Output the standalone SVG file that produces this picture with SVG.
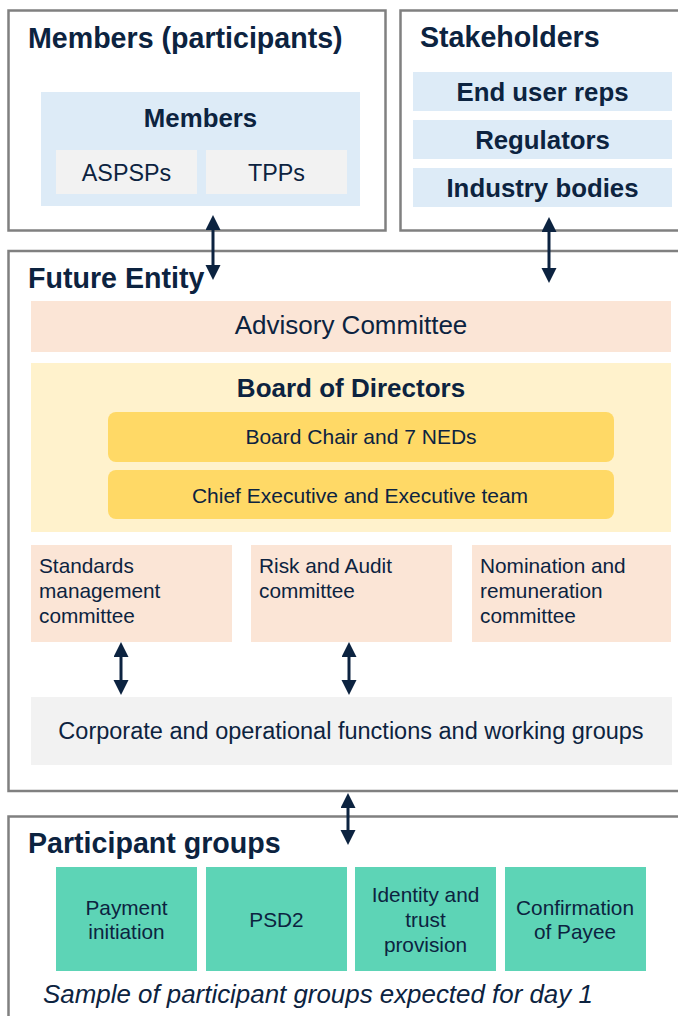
<svg xmlns="http://www.w3.org/2000/svg" width="678" height="1016" viewBox="0 0 678 1016">
  <defs>
    <style>
      text { font-family: "Liberation Sans", Arial, sans-serif; fill: #0c2340; }
      .frame { fill: #ffffff; stroke: #808080; stroke-width: 2.5; }
      .title { font-size: 28.6px; font-weight: bold; }
      .sub { font-size: 25.8px; font-weight: bold; text-anchor: middle; }
      .mid { text-anchor: middle; }
      .t23 { font-size: 23.3px; }
      .t21 { font-size: 20.8px; }
      .blue { fill: #ddebf7; }
      .grey { fill: #f2f2f2; }
      .peach { fill: #fbe5d6; }
      .cream { fill: #fff2cc; }
      .gold { fill: #ffd966; }
      .mint { fill: #5dd4b6; }
      .link { stroke: #0c2340; stroke-width: 3; fill: none; marker-start: url(#head); marker-end: url(#head); }
    </style>
    <marker id="head" markerUnits="userSpaceOnUse" markerWidth="16" markerHeight="16" refX="3" refY="7.5" orient="auto-start-reverse">
      <path d="M0,0 L15,7.5 L0,15 z" fill="#0c2340"/>
    </marker>
  </defs>

  <!-- Members panel -->
  <g id="members-panel">
    <rect class="frame" x="8.5" y="10.5" width="377" height="220"/>
    <text class="title" x="28" y="48">Members (participants)</text>
  </g>
  <g id="members">
    <rect class="blue" x="41" y="92" width="319" height="114"/>
    <text class="sub" x="200.5" y="127">Members</text>
  </g>
  <g id="aspsps">
    <rect class="grey" x="56" y="150" width="141" height="44"/>
    <text class="mid t23" x="126.5" y="181">ASPSPs</text>
  </g>
  <g id="tpps">
    <rect class="grey" x="206" y="150" width="141" height="44"/>
    <text class="mid t23" x="276.5" y="181">TPPs</text>
  </g>

  <!-- Stakeholders panel -->
  <g id="stakeholders-panel">
    <rect class="frame" x="400.5" y="10.5" width="300" height="220"/>
    <text class="title" x="420" y="47">Stakeholders</text>
  </g>
  <g id="end-user-reps">
    <rect class="blue" x="413" y="72" width="259" height="39"/>
    <text class="sub" x="542.5" y="100.5">End user reps</text>
  </g>
  <g id="regulators">
    <rect class="blue" x="413" y="120" width="259" height="39"/>
    <text class="sub" x="542.5" y="148.5">Regulators</text>
  </g>
  <g id="industry-bodies">
    <rect class="blue" x="413" y="168" width="259" height="39"/>
    <text class="sub" x="542.5" y="196.5">Industry bodies</text>
  </g>

  <!-- Future Entity panel -->
  <g id="future-entity">
    <rect class="frame" x="8.5" y="251" width="692" height="540"/>
    <text class="title" x="28" y="288">Future Entity</text>
  </g>
  <g id="advisory-committee">
    <rect class="peach" x="31" y="301" width="640" height="51"/>
    <text class="mid" x="351" y="334" style="font-size:26px">Advisory Committee</text>
  </g>
  <g id="board">
    <rect class="cream" x="31" y="363" width="640" height="169"/>
    <text class="mid" x="351" y="397" style="font-size:26px;font-weight:bold">Board of Directors</text>
  </g>
  <g id="board-chair">
    <rect class="gold" x="108" y="412" width="506" height="50" rx="8"/>
    <text class="mid t21" x="361" y="444" style="font-size:21px">Board Chair and 7 NEDs</text>
  </g>
  <g id="executive">
    <rect class="gold" x="108" y="470" width="506" height="49" rx="8"/>
    <text class="mid t21" x="360" y="503" style="font-size:21px">Chief Executive and Executive team</text>
  </g>
  <g id="standards-committee">
    <rect class="peach" x="31" y="545" width="201" height="97"/>
    <text class="t21" x="39" y="573">Standards</text>
    <text class="t21" x="39" y="598">management</text>
    <text class="t21" x="39" y="623">committee</text>
  </g>
  <g id="risk-audit-committee">
    <rect class="peach" x="251" y="545" width="201" height="97"/>
    <text class="t21" x="259" y="573">Risk and Audit</text>
    <text class="t21" x="259" y="598">committee</text>
  </g>
  <g id="nomination-committee">
    <rect class="peach" x="472" y="545" width="199" height="97"/>
    <text class="t21" x="480" y="573">Nomination and</text>
    <text class="t21" x="480" y="598">remuneration</text>
    <text class="t21" x="480" y="623">committee</text>
  </g>
  <g id="corporate-functions">
    <rect class="grey" x="31" y="697" width="641" height="68"/>
    <text class="mid" x="351" y="739" style="font-size:23.5px">Corporate and operational functions and working groups</text>
  </g>

  <!-- Participant groups panel -->
  <g id="participant-groups">
    <rect class="frame" x="8.5" y="816.5" width="692" height="220"/>
    <text class="title" x="28" y="853">Participant groups</text>
    <text x="43" y="1003" style="font-size:25.9px;font-style:italic">Sample of participant groups expected for day 1</text>
  </g>
  <g id="payment-initiation">
    <rect class="mint" x="56" y="867" width="141" height="104"/>
    <text class="mid t21" x="126.5" y="915">Payment</text>
    <text class="mid t21" x="126.5" y="939">initiation</text>
  </g>
  <g id="psd2">
    <rect class="mint" x="206" y="867" width="141" height="104"/>
    <text class="mid t21" x="276.5" y="927">PSD2</text>
  </g>
  <g id="identity-trust">
    <rect class="mint" x="355" y="867" width="141" height="104"/>
    <text class="mid t21" x="425.5" y="902">Identity and</text>
    <text class="mid t21" x="425.5" y="927">trust</text>
    <text class="mid t21" x="425.5" y="952">provision</text>
  </g>
  <g id="confirmation-of-payee">
    <rect class="mint" x="505" y="867" width="141" height="104"/>
    <text class="mid t21" x="575" y="915">Confirmation</text>
    <text class="mid t21" x="575" y="939">of Payee</text>
  </g>

  <!-- Connectors (two-way) -->
  <g id="connectors">
    <line class="link" x1="213" y1="227" x2="213" y2="268"/>
    <line class="link" x1="549" y1="229" x2="549" y2="271"/>
    <line class="link" x1="121" y1="654" x2="121" y2="683"/>
    <line class="link" x1="349" y1="654" x2="349" y2="683"/>
    <line class="link" x1="348" y1="805" x2="348" y2="833"/>
  </g>
</svg>
